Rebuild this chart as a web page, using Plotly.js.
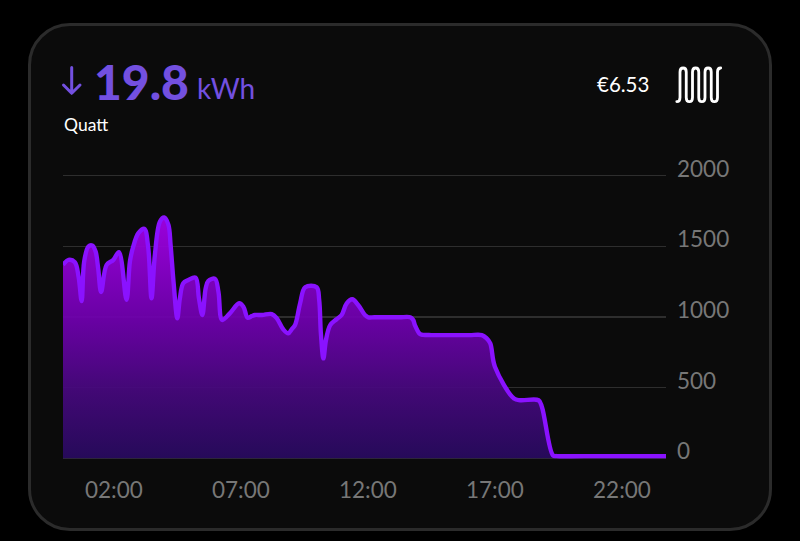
<!DOCTYPE html>
<html>
<head>
<meta charset="utf-8">
<script src="https://cdn.plot.ly/plotly-3.0.1.min.js"></script>
<style>
html,body{margin:0;padding:0;background:#000;width:800px;height:541px;overflow:hidden}
#card{position:absolute;left:28px;top:23px;width:738px;height:502px;border:3px solid #2b2b2b;border-radius:42px;background:#0b0b0b}
#chart{position:absolute;left:0;top:0;width:800px;height:541px}
svg.icon{position:absolute;left:0;top:0;pointer-events:none}
</style>
</head>
<body>
<div id="card"></div>
<div id="chart"></div>
<svg class="icon" width="800" height="541" fill="none" stroke-linecap="round" stroke-linejoin="round">
<path d="M71.7 67.5V93M63.5 85L71.7 93.3L80 85" stroke="#7350e0" stroke-width="3"/>
<path d="M676.8 101.6Q680 101.6 680 97.5V72Q680 68 683.1 68Q686.25 68 686.25 72V97.5Q686.25 101.6 689.4 101.6Q692.5 101.6 692.5 97.5V72Q692.5 68 695.6 68Q698.75 68 698.75 72V97.5Q698.75 101.6 701.9 101.6Q705 101.6 705 97.5V72Q705 68 708.1 68Q711.25 68 711.25 72V97.5Q711.25 101.6 714.4 101.6Q717.5 101.6 717.5 97.5V72Q717.5 68 720.7 68" stroke="#ffffff" stroke-width="2.8"/>
</svg>
<script>
const times = ["00:00","00:13","00:28","00:37","00:44","00:50","01:00","01:09","01:17","01:23","01:30","01:43","01:59","02:12","02:30","02:38","02:46","02:58","03:12","03:21","03:29","03:37","03:49","03:59","04:09","04:14","04:21","04:30","04:36","04:44","04:56","05:13","05:21","05:29","05:37","05:43","05:59","06:07","06:16","06:34","06:56","07:06","07:16","07:26","07:33","07:50","08:13","08:25","08:40","08:52","09:00","09:08","09:20","09:32","09:59","10:05","10:09","10:15","10:21","10:31","10:46","10:58","11:10","11:23","11:37","11:53","12:01","12:15","12:45","13:15","13:40","13:47","13:51","14:03","14:10","14:30","15:14","16:00","16:29","16:40","16:49","17:00","17:45","18:00","18:43","18:51","19:17","19:26","20:30","23:44"];
const power = [1369,1404,1388,1280,1113,1392,1499,1506,1463,1345,1177,1369,1404,1459,1121,1392,1499,1593,1624,1499,1133,1440,1676,1704,1652,1511,1250,991,1132,1239,1262,1279,1132,1014,1203,1255,1270,1180,979,1026,1097,1073,995,1007,1014,1014,1021,990,913,884,913,943,1097,1211,1211,1120,884,707,837,943,984,1014,1097,1126,1085,1014,998,998,998,998,998,979,943,879,874,872,872,872,872,850,813,648,423,411,411,364,21,16,16,16];
const xTicks = ["02:00","07:00","12:00","17:00","22:00"];
const yTicks = [0,500,1000,1500,2000];
const day = "2024-01-01 ";

const L=63,R=666,T=170.4,B=463.6;
const px = x => (x-L)/(R-L);
const py = y => (B-y)/(B-T);
const note = (text,x,y,size,color,weight,anchor) => ({text,x:px(x),y:py(y),xref:"paper",yref:"paper",xanchor:anchor||"left",yanchor:"middle",showarrow:false,borderpad:0,
  font:{family:"Lato",size,color,weight:weight||400}});

Plotly.newPlot("chart",[{
  x:times.map(t=>day+t), y:power, type:"scatter", mode:"lines",
  line:{color:"#8a12ff",width:4.4,shape:"spline",smoothing:1},
  fill:"tozeroy",
  fillgradient:{type:"vertical",start:1700,stop:0,colorscale:[[0,"rgba(165,0,235,0.93)"],[0.42,"rgba(112,0,175,0.93)"],[0.72,"rgba(70,8,125,0.93)"],[1,"rgba(40,10,95,0.93)"]]},
  hoverinfo:"skip"
}],{
  width:800,height:541,showlegend:false,
  paper_bgcolor:"rgba(0,0,0,0)",plot_bgcolor:"rgba(0,0,0,0)",
  margin:{l:L,r:800-R,t:T,b:541-B,pad:0},
  xaxis:{type:"date",range:[day+"00:00",day+"23:44"],
    tickvals:xTicks.map(t=>day+t),ticktext:xTicks,
    showgrid:false,zeroline:false,showline:false,ticks:"",ticklabelstandoff:10,
    tickfont:{family:"Lato",size:22.5,color:"#777777"}},
  yaxis:{side:"right",range:[-40,2040],tickvals:yTicks,ticktext:yTicks.map(String),
    gridcolor:"#2e2e2e",gridwidth:1.5,zeroline:false,showline:false,ticks:"",
    ticklabelstandoff:10,ticklabelshift:-7,
    tickfont:{family:"Lato",size:22.5,color:"#777777"}},
  annotations:[
    note("19.8",93,82,48,"#7350e0",900),
    note("kWh",196,89,28,"#7350e0",400),
    note("Quatt",62.5,125,17.5,"#ffffff",400),
    note("€6.53",650,85,20.5,"#ffffff",400,"right")
  ]
},{staticPlot:true,displayModeBar:false});
</script>
</body>
</html>
